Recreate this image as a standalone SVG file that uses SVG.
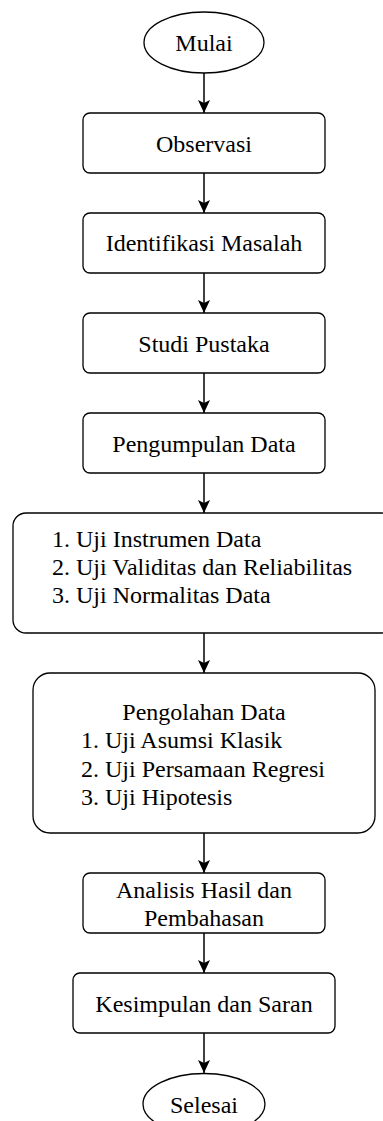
<svg xmlns="http://www.w3.org/2000/svg" width="383" height="1121" viewBox="0 0 383 1121">
<style>
.n{fill:#fff;stroke:#000;stroke-width:1.3}
.c{text-anchor:middle}
.e{stroke:#000;stroke-width:1.5;fill:none;marker-end:url(#ah)}
</style>
<defs>
<marker id="ah" markerWidth="14" markerHeight="14" viewBox="0 0 14 14" refX="13" refY="7" orient="auto" markerUnits="userSpaceOnUse">
<path d="M0,1 L13,7 L0,13 L3,7 Z" fill="#000"/>
</marker>
</defs>
<rect width="383" height="1121" fill="#fff"/>
<g id="connectors">
<line class="e" x1="204" y1="73" x2="204" y2="113"/>
<line class="e" x1="204" y1="173" x2="204" y2="213"/>
<line class="e" x1="204" y1="273" x2="204" y2="313"/>
<line class="e" x1="204" y1="373" x2="204" y2="413"/>
<line class="e" x1="204" y1="473" x2="204" y2="513"/>
<line class="e" x1="204" y1="633" x2="204" y2="673"/>
<line class="e" x1="204" y1="833" x2="204" y2="873"/>
<line class="e" x1="204" y1="933" x2="204" y2="973"/>
<line class="e" x1="204" y1="1033" x2="204" y2="1073"/>
</g>
<g font-family="Liberation Serif, Times New Roman, DejaVu Serif, serif" font-size="24" fill="#000">
<g id="mulai">
<ellipse class="n" cx="204" cy="42.5" rx="60" ry="30.5"/>
<text class="c" x="204" y="51">Mulai</text>
</g>
<g id="observasi">
<rect class="n" x="83" y="113" width="242" height="60" rx="7"/>
<text class="c" x="204" y="151.5">Observasi</text>
</g>
<g id="identifikasi">
<rect class="n" x="83" y="213" width="242" height="60" rx="7"/>
<text class="c" x="204" y="251">Identifikasi Masalah</text>
</g>
<g id="studi">
<rect class="n" x="83" y="313" width="242" height="60" rx="7"/>
<text class="c" x="204" y="351.5">Studi Pustaka</text>
</g>
<g id="pengumpulan">
<rect class="n" x="83" y="413" width="242" height="60" rx="7"/>
<text class="c" x="204" y="451.5">Pengumpulan Data</text>
</g>
<g id="uji">
<rect class="n" x="13" y="513" width="382" height="120" rx="13"/>
<text x="52" y="547">1. Uji Instrumen Data</text>
<text x="52" y="575">2. Uji Validitas dan Reliabilitas</text>
<text x="52" y="603">3. Uji Normalitas Data</text>
</g>
<g id="pengolahan">
<rect class="n" x="33" y="673" width="342" height="160" rx="17"/>
<text class="c" x="204" y="720">Pengolahan Data</text>
<text x="81" y="748">1. Uji Asumsi Klasik</text>
<text x="81" y="776.5">2. Uji Persamaan Regresi</text>
<text x="81" y="805">3. Uji Hipotesis</text>
</g>
<g id="analisis">
<rect class="n" x="83" y="873" width="242" height="60" rx="7"/>
<text class="c" x="204" y="898">Analisis Hasil dan</text>
<text class="c" x="204" y="926">Pembahasan</text>
</g>
<g id="kesimpulan">
<rect class="n" x="73" y="973" width="262" height="60" rx="7"/>
<text class="c" x="204" y="1011.5">Kesimpulan dan Saran</text>
</g>
<g id="selesai">
<ellipse class="n" cx="204" cy="1104" rx="61" ry="30.5"/>
<text class="c" x="204" y="1112.5">Selesai</text>
</g>
</g>
</svg>
